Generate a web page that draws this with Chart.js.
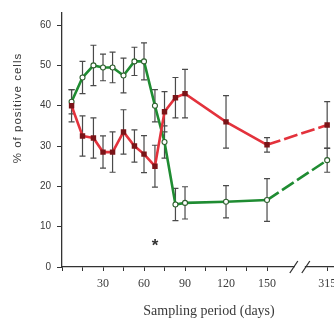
<!DOCTYPE html>
<html lang="en">
<head>
<meta charset="UTF-8">
<title>Positive cells over sampling period</title>
<script src="https://cdn.jsdelivr.net/npm/chart.js"></script>
<style>
  html, body { margin: 0; padding: 0; background: #fff; overflow: hidden; }
  .chart-box { position: relative; width: 350px; height: 324px; }
</style>
</head>
<body>
<div class="chart-box"><canvas id="cellsChart"></canvas></div>
<script>
// sampling days and % of positive cells
const days = [7, 15, 23, 30, 37, 45, 53, 60, 68, 75, 83, 90, 120, 150, 315];
const redValues = [40, 32.5, 32, 28.5, 28.5, 33.5, 30, 28, 25, 38.5, 42, 43, 36, 30.3, 35.2];
const redErrors = [4, 5, 5, 4, 5, 5.5, 4, 4.6, 5.2, 5, 5, 6, 6.5, 1.8, 5.8];
const greenValues = [41, 47, 50, 49.5, 49.5, 47.5, 51, 51, 40, 31, 15.5, 15.9, 16.2, 16.6, 26.5];
const greenErrors = [3, 4, 5, 3.3, 3.8, 4.3, 3.5, 4.6, 4, 4, 4, 4, 4, 5.3, 3];
const yTicks = [0, 10, 20, 30, 40, 50, 60];
const xTickDays = [0, 15, 30, 45, 60, 75, 90, 105, 120, 135, 150, 315];
const xTickLabels = ['', '', '30', '', '60', '', '90', '', '120', '', '150', '315'];
const starDay = 68, starValue = 6;

// axis break: days after the break are pulled left
const BREAK_DAY = 174;
const BREAK_SHIFT = 121;
const axisPos = d => d > BREAK_DAY ? d - BREAK_SHIFT : d;

const RED = '#e3323c';
const GREEN = '#1f8c32';

function toPoints(vals) {
    return days.map((d, i) => ({ x: axisPos(d), y: vals[i] }));
}

const lastSegDash = ctx => ctx.p1DataIndex === days.length - 1 ? [14, 4] : undefined;

const errorBars = {
    id: 'errorBars',
    beforeDatasetsDraw(chart) {
        const { ctx, scales: { x, y } } = chart;
        const sets = [[redValues, redErrors], [greenValues, greenErrors]];
        ctx.save();
        ctx.strokeStyle = '#4a4a4a';
        ctx.lineWidth = 1.2;
        sets.forEach(([vals, errs]) => {
            days.forEach((d, i) => {
                const px = x.getPixelForValue(axisPos(d));
                const top = y.getPixelForValue(vals[i] + errs[i]);
                const bot = y.getPixelForValue(vals[i] - errs[i]);
                ctx.beginPath();
                ctx.moveTo(px, top); ctx.lineTo(px, bot);
                ctx.moveTo(px - 3, top); ctx.lineTo(px + 3, top);
                ctx.moveTo(px - 3, bot); ctx.lineTo(px + 3, bot);
                ctx.stroke();
            });
        });
        ctx.restore();
    }
};

const extras = {
    id: 'extras',
    afterDraw(chart) {
        const { ctx, scales: { x, y }, chartArea } = chart;
        ctx.save();
        // axis break marks
        const bx = x.getPixelForValue(BREAK_DAY);
        const by = chartArea.bottom;
        ctx.fillStyle = '#fff';
        ctx.fillRect(bx - 5, by - 2, 10, 4);
        ctx.strokeStyle = '#333';
        ctx.lineWidth = 1.3;
        ctx.beginPath();
        ctx.moveTo(bx - 10, by + 6); ctx.lineTo(bx - 2, by - 6);
        ctx.moveTo(bx + 2, by + 6); ctx.lineTo(bx + 10, by - 6);
        ctx.stroke();

        // significance star
        ctx.fillStyle = '#333';
        ctx.font = 'bold 17px "Liberation Sans"';
        ctx.textAlign = 'center';
        ctx.textBaseline = 'middle';
        ctx.fillText('*', x.getPixelForValue(starDay), y.getPixelForValue(starValue) + 4);

        // axis titles
        ctx.fillStyle = '#3a3a3a';
        ctx.font = '14px "Liberation Serif"';
        ctx.fillText('Sampling period (days)', 209, 311);
        ctx.translate(18, 108);
        ctx.rotate(-Math.PI / 2);
        ctx.font = '11.5px "Liberation Sans"';
        ctx.letterSpacing = '1px';
        ctx.fillText('% of positive cells', 0, 0);
        ctx.restore();
    }
};

new Chart(document.getElementById('cellsChart'), {
    type: 'line',
    data: {
        datasets: [
            {
                data: toPoints(redValues),
                borderColor: RED,
                borderWidth: 2.6,
                pointStyle: 'rect',
                pointRadius: 2,
                pointBackgroundColor: '#7a1418',
                pointBorderColor: '#7a1418',
                segment: { borderDash: lastSegDash }
            },
            {
                data: toPoints(greenValues),
                borderColor: GREEN,
                borderWidth: 2.6,
                pointRadius: 2.5,
                pointBorderWidth: 1.1,
                pointBackgroundColor: '#fff',
                pointBorderColor: '#2d5f2d',
                segment: { borderDash: lastSegDash }
            }
        ]
    },
    options: {
        responsive: true,
        maintainAspectRatio: false,
        animation: false,
        layout: { padding: { top: 13, right: 16, left: 0, bottom: 0 } },
        plugins: { legend: { display: false }, tooltip: { enabled: false } },
        elements: { line: { tension: 0 } },
        scales: {
            x: {
                type: 'linear',
                min: 0,
                max: 199,
                border: { display: true, color: '#333', width: 1.3 },
                grid: { drawOnChartArea: false, drawTicks: true, tickLength: 4, color: '#333' },
                afterBuildTicks: s => { s.ticks = xTickDays.map(d => ({ value: axisPos(d) })); },
                ticks: {
                    autoSkip: false,
                    maxRotation: 0,
                    padding: 6,
                    color: '#3a3a3a',
                    font: { family: 'Liberation Serif', size: 12 },
                    callback: (v, i) => xTickLabels[i]
                },
                afterFit: s => { s.height = 57; s.paddingLeft = 0; s.paddingRight = 0; }
            },
            y: {
                min: 0,
                max: 63,
                border: { display: true, color: '#333', width: 1.3 },
                grid: { drawOnChartArea: false, drawTicks: true, tickLength: 5, color: '#333' },
                afterBuildTicks: s => { s.ticks = yTicks.map(v => ({ value: v })); },
                ticks: {
                    padding: 6,
                    color: '#3a3a3a',
                    font: { family: 'Liberation Sans', size: 10 }
                },
                afterFit: s => { s.width = 62; s.paddingTop = 0; s.paddingBottom = 0; }
            }
        }
    },
    plugins: [errorBars, extras]
});
</script>
</body>
</html>
